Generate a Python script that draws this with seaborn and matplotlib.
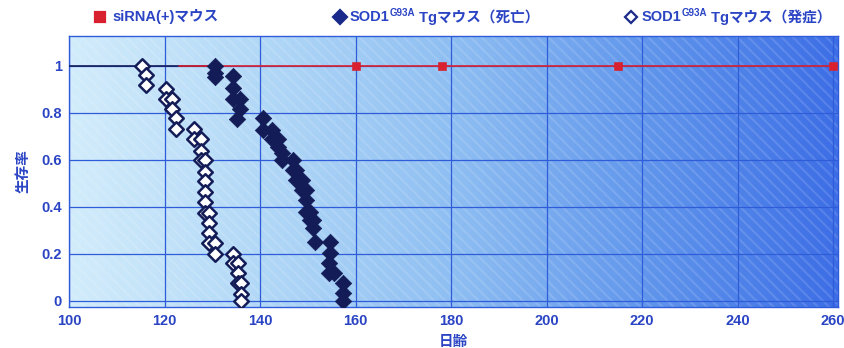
import matplotlib
matplotlib.use("Agg")
import numpy as np
import pandas as pd
import matplotlib.pyplot as plt
import seaborn as sns
from matplotlib.colors import LinearSegmentedColormap
from matplotlib.lines import Line2D
from matplotlib.patches import Rectangle

# データ
sirna_days = [123, 160, 178, 215, 260]
sirna_surv = [1, 1, 1, 1, 1]
sirna_mark_days = [160, 178, 215, 260]

tg_start_days = [100, 130]
tg_start_surv = [1, 1]

death_days = [130.5, 130.5, 130.5, 134.4, 134.4, 134.4, 135.8, 135.8, 135.1,
              140.6, 140.6, 142.4, 142.4, 143.8, 143.8, 144.5, 144.5, 146.9,
              146.9, 147.6, 147.6, 148.7, 148.7, 149.7, 149.7, 149.7, 150.4,
              150.4, 151.1, 151.1, 151.5, 154.6, 154.6, 154.4, 154.4, 155.5,
              157.4, 157.4, 157.4]
death_surv = [1.0, 0.97, 0.955, 0.957, 0.905, 0.86, 0.86, 0.815, 0.773,
              0.777, 0.728, 0.728, 0.69, 0.69, 0.657, 0.628, 0.60, 0.60,
              0.557, 0.557, 0.515, 0.515, 0.472, 0.472, 0.43, 0.38, 0.38,
              0.345, 0.345, 0.31, 0.252, 0.252, 0.203, 0.16, 0.118, 0.118,
              0.075, 0.033, 0.0]

onset_days = [115.2, 116.2, 116.2, 120.2, 120.2, 121.6, 121.6, 122.5, 122.5,
              126.2, 126.2, 127.6, 127.6, 127.6, 128.5, 128.5, 128.5, 128.5,
              128.5, 128.5, 129.3, 129.3, 129.3, 129.3, 130.5, 130.5, 134.4,
              134.4, 135.3, 135.3, 135.3, 136.0, 136.0, 136.0]
onset_surv = [1.0, 0.96, 0.92, 0.90, 0.86, 0.86, 0.815, 0.78, 0.73,
              0.73, 0.69, 0.69, 0.64, 0.60, 0.60, 0.55, 0.51, 0.465,
              0.42, 0.375, 0.375, 0.333, 0.29, 0.245, 0.245, 0.20, 0.20,
              0.16, 0.16, 0.118, 0.075, 0.075, 0.03, 0.0]

x_ticks = [100, 120, 140, 160, 180, 200, 220, 240, 260]
y_ticks = [0, 0.2, 0.4, 0.6, 0.8, 1]
y_ticklabels = ["0", "0.2", "0.4", "0.6", "0.8", "1"]

sns.set_theme(style="white")
plt.rcParams["font.family"] = ["Liberation Sans", "Noto Sans CJK JP", "DejaVu Sans"]

NAVY = "#141c58"
RED = "#d8202e"
BLUE = "#2a44c4"
GRID = "#2f5cd8"

fig = plt.figure(figsize=(8.44, 3.48), dpi=100)
ax = fig.add_axes([0.0818, 0.118, 0.911, 0.779])

# 背景グラデーション
cmap = LinearSegmentedColormap.from_list(
    "bg", ["#d2ecfb", "#b2d8f7", "#8ebef2", "#6196ec", "#3d6ee6"])
grad = np.linspace(0, 1, 256).reshape(1, -1)
ax.imshow(grad, extent=[0, 1, 0, 1], transform=ax.transAxes, aspect="auto",
          cmap=cmap, zorder=-3)
plt.rcParams["hatch.linewidth"] = 1.5
ax.add_patch(Rectangle((0, 0), 1, 1, transform=ax.transAxes, facecolor="none",
                       edgecolor=(1, 1, 1, 0.13), hatch="\\\\\\", lw=0, zorder=-2))

# 線
sns.lineplot(x=tg_start_days, y=tg_start_surv, color=NAVY, lw=1.2, ax=ax, zorder=3)
sns.lineplot(x=sirna_days, y=sirna_surv, color=RED, lw=1.2, ax=ax, zorder=3)
sns.scatterplot(x=sirna_mark_days, y=[1] * len(sirna_mark_days), marker="s", s=30,
                color=RED, edgecolor=RED, ax=ax, zorder=4)

# 点
sns.scatterplot(x=onset_days, y=onset_surv, marker="D", s=55, facecolor="white",
                edgecolor=NAVY, linewidth=1.8, ax=ax, zorder=5)
sns.scatterplot(x=death_days, y=death_surv, marker="D", s=70, color=NAVY,
                edgecolor=NAVY, linewidth=0.5, ax=ax, zorder=5)

ax.set_xlim(100, 261)
ax.set_ylim(-0.0255, 1.128)
ax.set_xticks(x_ticks)
ax.set_yticks(y_ticks)
ax.set_yticklabels(y_ticklabels)
ax.grid(True, color=GRID, lw=0.9)
ax.set_axisbelow(True)
for sp in ax.spines.values():
    sp.set_color(GRID)
    sp.set_linewidth(1.0)
ax.tick_params(axis="both", length=0, labelsize=10.5, labelcolor=BLUE, pad=5)
for lab in ax.get_xticklabels() + ax.get_yticklabels():
    lab.set_fontweight("bold")

ax.set_xlabel("日齢", color=BLUE, fontsize=10.5, fontweight="bold",
              family=["Noto Sans CJK JP", "DejaVu Sans"], labelpad=4)
ax.set_ylabel("生存率", color=BLUE, fontsize=10.5, fontweight="bold",
              family=["Noto Sans CJK JP", "DejaVu Sans"], labelpad=8)

# 凡例（手作り）
renderer = fig.canvas.get_renderer()
W, H = fig.get_size_inches() * fig.dpi
fam = ["Liberation Sans", "Noto Sans CJK JP", "DejaVu Sans"]


def put_pieces(x_px, y_px, pieces):
    x = x_px
    for s, size, dy in pieces:
        t = fig.text(x / W, 1 - (y_px - dy) / H, s, fontsize=size, color=BLUE,
                     va="center", ha="left", family=fam, fontweight="bold")
        bb = t.get_window_extent(renderer)
        x += bb.width


def legend_marker(x_px, y_px, marker, face, edge, size):
    fig.add_artist(Line2D([x_px / W], [1 - y_px / H], marker=marker, ms=size,
                          markerfacecolor=face, markeredgecolor=edge,
                          markeredgewidth=1.6, transform=fig.transFigure, ls="none"))


legend_marker(100, 17, "s", RED, RED, 7.5)
put_pieces(112, 17, [("siRNA(+)マウス", 10.5, 0)])
legend_marker(340, 17, "D", "#1a2a8a", "#1a2a8a", 7)
put_pieces(350, 17, [("SOD1", 10.5, 0), ("G93A", 7, 4), (" Tgマウス（死亡）", 10.5, 0)])
legend_marker(631, 17, "D", "white", "#1a2a8a", 6.5)
put_pieces(642, 17, [("SOD1", 10.5, 0), ("G93A", 7, 4), (" Tgマウス（発症）", 10.5, 0)])

fig.savefig("out.png", dpi=100)
